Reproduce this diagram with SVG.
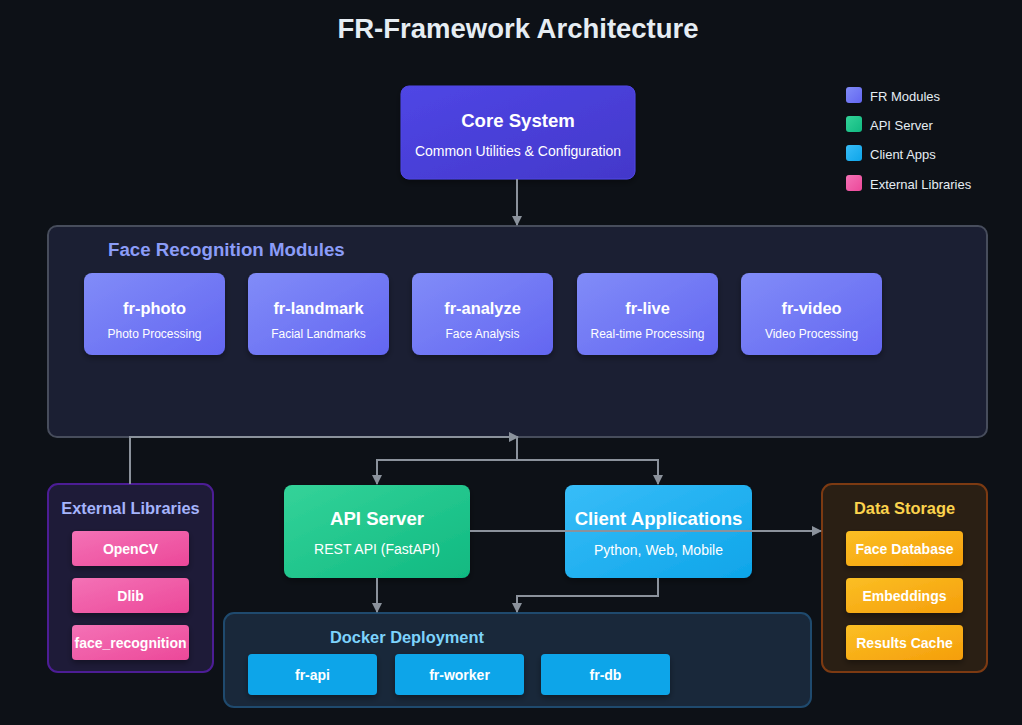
<svg xmlns="http://www.w3.org/2000/svg" width="1022" height="725" viewBox="0 0 1022 725">
<defs>
<linearGradient id="gCore" x1="0" y1="0" x2="1" y2="1"><stop offset="0" stop-color="#4f46e5"/><stop offset="1" stop-color="#4338ca"/></linearGradient>
<linearGradient id="gMod" x1="0" y1="0" x2="1" y2="1"><stop offset="0" stop-color="#818cf8"/><stop offset="1" stop-color="#6366f1"/></linearGradient>
<linearGradient id="gApi" x1="0" y1="0" x2="1" y2="1"><stop offset="0" stop-color="#34d399"/><stop offset="1" stop-color="#10b981"/></linearGradient>
<linearGradient id="gCli" x1="0" y1="0" x2="1" y2="1"><stop offset="0" stop-color="#38bdf8"/><stop offset="1" stop-color="#0ea5e9"/></linearGradient>
<linearGradient id="gExt" x1="0" y1="0" x2="1" y2="1"><stop offset="0" stop-color="#f472b6"/><stop offset="1" stop-color="#ec4899"/></linearGradient>
<linearGradient id="gSto" x1="0" y1="0" x2="1" y2="1"><stop offset="0" stop-color="#fbbf24"/><stop offset="1" stop-color="#f59e0b"/></linearGradient>
<filter id="sh" x="-20%" y="-20%" width="140%" height="150%"><feDropShadow dx="0" dy="3" stdDeviation="3" flood-color="#000" flood-opacity="0.35"/></filter>
<marker id="ar" viewBox="0 0 10 10" refX="9" refY="5" markerWidth="10" markerHeight="10" orient="auto" markerUnits="userSpaceOnUse"><path d="M0,0 L10,5 L0,10 z" fill="#8b929c"/></marker>
</defs>
<style>
text{font-family:"Liberation Sans",Arial,sans-serif;}
.t{fill:#ffffff;font-weight:bold;text-anchor:middle;}
.s{fill:#ffffff;text-anchor:middle;}
.lg{fill:#e6edf3;font-size:13px;}
.c{fill:none;stroke:#8b929c;stroke-width:2;}
</style>
<rect x="0" y="0" width="1022" height="725" fill="#0d1117"/>
<text x="518" y="38" font-size="27.5" font-weight="bold" fill="#e6edf3" text-anchor="middle">FR-Framework Architecture</text>

<g id="legend">
<rect x="846" y="87" width="16" height="16" rx="3" fill="url(#gMod)"/>
<text class="lg" x="870" y="101">FR Modules</text>
<rect x="846" y="116" width="16" height="16" rx="3" fill="url(#gApi)"/>
<text class="lg" x="870" y="130">API Server</text>
<rect x="846" y="145" width="16" height="16" rx="3" fill="url(#gCli)"/>
<text class="lg" x="870" y="159">Client Apps</text>
<rect x="846" y="175" width="16" height="16" rx="3" fill="url(#gExt)"/>
<text class="lg" x="870" y="189">External Libraries</text>
</g>

<g id="core">
<rect x="401" y="86" width="234" height="93" rx="8" fill="url(#gCore)" stroke="#4f46e5" filter="url(#sh)"/>
<text class="t" x="518" y="127" font-size="18.6">Core System</text>
<text class="s" x="518" y="156" font-size="14">Common Utilities &amp; Configuration</text>
</g>

<g id="modules">
<rect x="48" y="226" width="939" height="211" rx="9" fill="#1b1f33" stroke="#474d5c" stroke-width="2"/>
<text x="108" y="256" font-size="18.7" font-weight="bold" fill="#8b9cf8">Face Recognition Modules</text>
</g>
<g id="fr-photo"><rect x="84" y="273" width="141" height="82" rx="8" fill="url(#gMod)" filter="url(#sh)"/><text class="t" x="154.5" y="314" font-size="16.4">fr-photo</text><text class="s" x="154.5" y="338" font-size="12">Photo Processing</text></g>
<g id="fr-landmark"><rect x="248" y="273" width="141" height="82" rx="8" fill="url(#gMod)" filter="url(#sh)"/><text class="t" x="318.5" y="314" font-size="16.4">fr-landmark</text><text class="s" x="318.5" y="338" font-size="12">Facial Landmarks</text></g>
<g id="fr-analyze"><rect x="412" y="273" width="141" height="82" rx="8" fill="url(#gMod)" filter="url(#sh)"/><text class="t" x="482.5" y="314" font-size="16.4">fr-analyze</text><text class="s" x="482.5" y="338" font-size="12">Face Analysis</text></g>
<g id="fr-live"><rect x="577" y="273" width="141" height="82" rx="8" fill="url(#gMod)" filter="url(#sh)"/><text class="t" x="647.5" y="314" font-size="16.4">fr-live</text><text class="s" x="647.5" y="338" font-size="12">Real-time Processing</text></g>
<g id="fr-video"><rect x="741" y="273" width="141" height="82" rx="8" fill="url(#gMod)" filter="url(#sh)"/><text class="t" x="811.5" y="314" font-size="16.4">fr-video</text><text class="s" x="811.5" y="338" font-size="12">Video Processing</text></g>

<g id="api-server">
<rect x="284" y="485" width="186" height="93" rx="8" fill="url(#gApi)" filter="url(#sh)"/>
<text class="t" x="377" y="525" font-size="18.6">API Server</text>
<text class="s" x="377" y="554" font-size="14">REST API (FastAPI)</text>
</g>
<g id="client-apps">
<rect x="565" y="485" width="187" height="93" rx="8" fill="url(#gCli)" filter="url(#sh)"/>
<text class="t" x="658.5" y="525" font-size="18.6">Client Applications</text>
<text class="s" x="658.5" y="555" font-size="14">Python, Web, Mobile</text>
</g>

<g id="external-libraries">
<rect x="48" y="484" width="165" height="188" rx="10" fill="#1e1b38" stroke="#4c1d95" stroke-width="2"/>
<text x="130.5" y="514" font-size="16.4" font-weight="bold" fill="#a5b4fc" text-anchor="middle">External Libraries</text>
<rect x="72" y="531" width="117" height="35" rx="4" fill="url(#gExt)" filter="url(#sh)"/>
<text class="t" x="130.5" y="554" font-size="14">OpenCV</text>
<rect x="72" y="578" width="117" height="35" rx="4" fill="url(#gExt)" filter="url(#sh)"/>
<text class="t" x="130.5" y="601" font-size="14">Dlib</text>
<rect x="72" y="625" width="117" height="35" rx="4" fill="url(#gExt)" filter="url(#sh)"/>
<text class="t" x="130.5" y="648" font-size="14">face_recognition</text>
</g>

<g id="data-storage">
<rect x="822" y="484" width="165" height="188" rx="10" fill="#2a1f14" stroke="#7c3a12" stroke-width="2"/>
<text x="904.5" y="514" font-size="16.4" font-weight="bold" fill="#fcd34d" text-anchor="middle">Data Storage</text>
<rect x="846" y="531" width="117" height="35" rx="4" fill="url(#gSto)" filter="url(#sh)"/>
<text class="t" x="904.5" y="554" font-size="14">Face Database</text>
<rect x="846" y="578" width="117" height="35" rx="4" fill="url(#gSto)" filter="url(#sh)"/>
<text class="t" x="904.5" y="601" font-size="14">Embeddings</text>
<rect x="846" y="625" width="117" height="35" rx="4" fill="url(#gSto)" filter="url(#sh)"/>
<text class="t" x="904.5" y="648" font-size="14">Results Cache</text>
</g>

<g id="docker">
<rect x="224" y="613" width="587" height="94" rx="10" fill="#19283a" stroke="#1f4a6e" stroke-width="2"/>
<text x="330" y="643" font-size="16.4" font-weight="bold" fill="#7dd3fc">Docker Deployment</text>
<rect x="248" y="654" width="129" height="41" rx="4" fill="#0ea5e9" filter="url(#sh)"/>
<text class="t" x="312.5" y="680" font-size="14">fr-api</text>
<rect x="395" y="654" width="129" height="41" rx="4" fill="#0ea5e9" filter="url(#sh)"/>
<text class="t" x="459.5" y="680" font-size="14">fr-worker</text>
<rect x="541" y="654" width="129" height="41" rx="4" fill="#0ea5e9" filter="url(#sh)"/>
<text class="t" x="605.5" y="680" font-size="14">fr-db</text>
</g>

<g id="connectors">
<path class="c" d="M517,179 V225" marker-end="url(#ar)"/>
<path class="c" d="M130,484 V437 H518" marker-end="url(#ar)"/>
<path class="c" d="M517,437 V460 H377 V484" marker-end="url(#ar)"/>
<path class="c" d="M517,460 H658 V484" marker-end="url(#ar)"/>
<path class="c" d="M470,531 H821" marker-end="url(#ar)"/>
<path class="c" d="M377,578 V612" marker-end="url(#ar)"/>
<path class="c" d="M658,578 V596 H517 V612" marker-end="url(#ar)"/>
</g>
</svg>
